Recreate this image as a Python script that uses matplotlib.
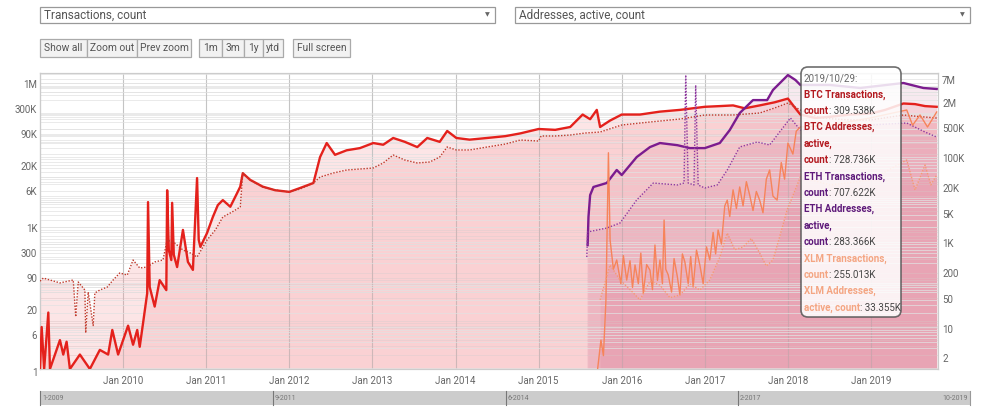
import matplotlib.pyplot as plt
import matplotlib.transforms as mtransforms
from matplotlib.patches import FancyBboxPatch, Rectangle
from matplotlib.text import Annotation
from matplotlib.ticker import LogLocator, NullFormatter

plt.rcParams['font.family'] = ['Roboto', 'DejaVu Sans']

# (decimal year, value)
# left axis: transactions, right axis: active addresses
btc_tx = [(2009.00, 1), (2009.02, 7.5), (2009.05, 1), (2009.10, 15), (2009.12, 1), (2009.18, 2),
          (2009.24, 4), (2009.28, 2), (2009.32, 3.7), (2009.36, 1), (2009.48, 2), (2009.60, 1),
          (2009.72, 2.5), (2009.82, 2), (2009.87, 6.5), (2009.94, 2), (2010.00, 4), (2010.06, 8),
          (2010.12, 3.2), (2010.17, 6.5), (2010.20, 2.9), (2010.24, 9), (2010.29, 38), (2010.30, 3000),
          (2010.32, 51), (2010.38, 20), (2010.44, 71), (2010.52, 44), (2010.53, 5300), (2010.55, 300),
          (2010.58, 186), (2010.59, 2900), (2010.61, 240), (2010.65, 133), (2010.72, 790), (2010.78, 170),
          (2010.84, 116), (2010.89, 9500), (2010.91, 490), (2010.93, 350), (2011.01, 680), (2011.08, 1470),
          (2011.14, 2600), (2011.20, 3300), (2011.29, 2400), (2011.36, 4200), (2011.41, 6300),
          (2011.44, 12000), (2011.53, 8700), (2011.68, 6300), (2011.83, 5300), (2012.00, 4900),
          (2012.13, 5900), (2012.29, 7500), (2012.37, 26000), (2012.45, 51000), (2012.55, 29000),
          (2012.69, 36000), (2012.85, 40000), (2013.01, 51000), (2013.13, 47000), (2013.25, 65000),
          (2013.39, 54000), (2013.54, 42000), (2013.66, 65000), (2013.81, 54000), (2013.90, 91000),
          (2014.01, 65000), (2014.17, 60000), (2014.38, 65000), (2014.60, 71000), (2014.78, 81000),
          (2015.00, 100000), (2015.20, 96000), (2015.38, 110000), (2015.53, 200000), (2015.62, 160000),
          (2015.70, 250000), (2015.74, 110000), (2015.86, 150000), (2016.00, 200000), (2016.22, 200000),
          (2016.46, 230000), (2016.70, 250000), (2017.00, 290000), (2017.18, 300000), (2017.34, 310000),
          (2017.48, 270000), (2017.66, 310000), (2017.84, 360000), (2018.00, 430000), (2018.09, 270000),
          (2018.15, 200000), (2018.33, 170000), (2018.51, 180000), (2018.75, 200000), (2019.00, 210000),
          (2019.17, 250000), (2019.39, 340000), (2019.53, 330000), (2019.65, 300000), (2019.79, 290000)]

btc_addr = [(2009.00, 110), (2009.04, 130), (2009.24, 100), (2009.40, 117), (2009.43, 16), (2009.46, 105),
            (2009.54, 68), (2009.55, 6.7), (2009.58, 61), (2009.64, 10), (2009.66, 58), (2009.72, 68),
            (2009.81, 80), (2009.88, 117), (2009.96, 171), (2010.05, 153), (2010.12, 345), (2010.20, 224),
            (2010.29, 236), (2010.38, 310), (2010.48, 345), (2010.53, 1016), (2010.62, 865), (2010.72, 592),
            (2010.81, 503), (2010.89, 405), (2011.01, 1016), (2011.11, 1745), (2011.20, 3520),
            (2011.31, 4600), (2011.41, 6050), (2011.44, 38000), (2011.53, 26000), (2011.68, 17800),
            (2011.83, 15200), (2012.00, 13600), (2012.13, 16000), (2012.29, 22100), (2012.37, 30600),
            (2012.53, 38000), (2012.69, 44700), (2012.85, 47200), (2013.01, 49800), (2013.13, 65300),
            (2013.25, 100500), (2013.39, 76700), (2013.54, 65300), (2013.69, 68900), (2013.81, 90200),
            (2013.90, 155000), (2014.01, 132000), (2014.17, 132000), (2014.38, 155000), (2014.60, 182000),
            (2014.78, 226000), (2015.00, 214000), (2015.03, 281000), (2015.20, 281000), (2015.38, 296000),
            (2015.56, 330000), (2015.74, 348000), (2016.00, 509000), (2016.34, 598000), (2016.70, 703000),
            (2017.00, 874000), (2017.34, 874000), (2017.66, 973000), (2017.84, 1276000), (2018.00, 1670000),
            (2018.15, 1145000), (2018.39, 743000), (2018.75, 667000), (2019.00, 667000), (2019.39, 874000),
            (2019.59, 800000), (2019.79, 743000)]

eth_tx = [(2015.59, 383), (2015.60, 1470), (2015.62, 4200), (2015.66, 6200), (2015.82, 7500),
          (2015.94, 14000), (2016.00, 11000), (2016.18, 26000), (2016.34, 42000), (2016.46, 51000),
          (2016.67, 46000), (2016.82, 40000), (2017.00, 40000), (2017.18, 51000), (2017.30, 95000),
          (2017.42, 215000), (2017.58, 400000), (2017.75, 400000), (2017.82, 650000), (2018.00, 1330000),
          (2018.09, 1050000), (2018.15, 826000), (2018.51, 826000), (2018.87, 715000), (2019.39, 909000),
          (2019.63, 715000), (2019.79, 682000)]

eth_addr = [(2015.58, 405), (2015.59, 1570), (2015.82, 1940), (2015.98, 2550), (2016.18, 8830),
            (2016.38, 22100), (2016.67, 19900), (2016.75, 22100), (2016.77, 7600000), (2016.80, 22100),
            (2016.87, 19900), (2016.89, 4400000), (2016.92, 19900), (2017.00, 16900), (2017.15, 19900),
            (2017.27, 44700), (2017.42, 155000), (2017.63, 203000), (2017.78, 173000), (2017.90, 348000),
            (2018.03, 743000), (2018.15, 388000), (2018.51, 433000), (2018.99, 509000), (2019.43, 567000),
            (2019.65, 348000), (2019.79, 266000)]

xlm_tx = [(2015.71, 1), (2015.75, 4), (2015.78, 1.9), (2015.81, 27), (2015.84, 32000), (2015.86, 490),
          (2015.90, 120), (2015.94, 187), (2015.99, 60), (2016.02, 230), (2016.06, 71), (2016.10, 180),
          (2016.13, 50), (2016.16, 147), (2016.20, 60), (2016.23, 260), (2016.26, 38), (2016.30, 150),
          (2016.34, 115), (2016.37, 45), (2016.40, 383), (2016.43, 70), (2016.46, 187), (2016.49, 60),
          (2016.51, 1270), (2016.53, 120), (2016.56, 91), (2016.60, 40), (2016.63, 200), (2016.67, 83),
          (2016.70, 35), (2016.73, 250), (2016.76, 170), (2016.80, 60), (2016.83, 220), (2016.86, 51),
          (2016.90, 300), (2016.94, 147), (2016.98, 60), (2017.02, 350), (2017.06, 187), (2017.10, 700),
          (2017.13, 250), (2017.16, 787), (2017.20, 400), (2017.24, 2500), (2017.27, 3300),
          (2017.30, 1500), (2017.34, 5400), (2017.38, 2200), (2017.42, 6200), (2017.46, 2500),
          (2017.50, 8000), (2017.54, 4200), (2017.58, 2000), (2017.62, 5000), (2017.66, 3300),
          (2017.70, 1800), (2017.74, 9000), (2017.78, 14000), (2017.82, 4000), (2017.87, 3300),
          (2017.92, 20000), (2017.96, 9000), (2018.00, 51000), (2018.06, 30000), (2018.10, 90000),
          (2018.15, 110000), (2018.51, 121000), (2018.99, 170000), (2019.43, 249000), (2019.50, 120000),
          (2019.59, 196000), (2019.68, 110000), (2019.79, 226000)]

xlm_addr = [(2015.74, 40), (2015.86, 263), (2015.98, 117), (2016.10, 70), (2016.22, 40), (2016.34, 110),
            (2016.46, 89), (2016.58, 45), (2016.70, 52), (2016.82, 95), (2016.94, 68), (2017.06, 117),
            (2017.18, 400), (2017.27, 1480), (2017.36, 600), (2017.46, 697), (2017.56, 1100),
            (2017.66, 503), (2017.74, 250), (2017.82, 345), (2017.90, 1200), (2017.99, 5140),
            (2018.15, 30600), (2018.51, 19900), (2018.99, 26000), (2019.43, 76700), (2019.53, 15200),
            (2019.65, 58600), (2019.72, 20000), (2019.79, 34100)]

years = list(range(2010, 2020))
left_ticks = [1, 6, 20, 90, 300, 1e3, 6e3, 2e4, 9e4, 3e5, 1e6]
left_labels = ['1', '6', '20', '90', '300', '1K', '6K', '20K', '90K', '300K', '1M']
right_ticks = [2, 10, 50, 200, 1e3, 5e3, 2e4, 1e5, 5e5, 2e6, 7e6]
right_labels = ['2', '10', '50', '200', '1K', '5K', '20K', '100K', '500K', '2M', '7M']

tooltip = [('2019/10/29:', None, '#666666'),
           ('BTC Transactions,', None, '#b3191f'),
           ('count', ': 309.538K', '#b3191f'),
           ('BTC Addresses,', None, '#b3191f'),
           ('active,', None, '#b3191f'),
           ('count', ': 728.736K', '#b3191f'),
           ('ETH Transactions,', None, '#5e1a7a'),
           ('count', ': 707.622K', '#5e1a7a'),
           ('ETH Addresses,', None, '#5e1a7a'),
           ('active,', None, '#5e1a7a'),
           ('count', ': 283.366K', '#5e1a7a'),
           ('XLM Transactions,', None, '#f4a582'),
           ('count', ': 255.013K', '#f4a582'),
           ('XLM Addresses,', None, '#f4a582'),
           ('active, count', ': 33.355K', '#f4a582')]

W, H = 1000, 412
fig = plt.figure(figsize=(W / 100, H / 100), dpi=100)


def fx(x):
    return x / W


def fy(y):
    return 1 - y / H


ax = fig.add_axes([fx(40), fy(369), fx(938) - fx(40), fy(73) - fy(369)])
ax2 = ax.twinx()
ax.set_xlim(2009.0, 2019.806)
for a, lo, hi in [(ax, 1, 1.468e6), (ax2, 0.953, 8.46e6)]:
    a.set_yscale('log')
    a.set_ylim(lo, hi)
    a.yaxis.set_minor_locator(LogLocator(base=10, subs=range(1, 10), numticks=20))
    a.yaxis.set_minor_formatter(NullFormatter())
    a.grid(True, which='minor', axis='y', color='#e2e2e2', lw=0.5)
    a.tick_params(axis='y', which='both', length=0, labelsize=7, labelcolor='#666666')
    for s in a.spines.values():
        s.set_color('#cccccc')
        s.set_linewidth(0.8)
ax.spines['left'].set_color('#999999')

ax.set_yticks(left_ticks)
ax.set_yticklabels(left_labels)
ax.tick_params(axis='y', pad=2)
ax2.set_yticks(right_ticks)
ax2.set_yticklabels(right_labels)
ax2.tick_params(axis='y', pad=3)
shift = mtransforms.ScaledTranslation(0, -3 / 100, fig.dpi_scale_trans)
for lbl in ax.get_yticklabels() + ax2.get_yticklabels():
    lbl.set_transform(lbl.get_transform() + shift)

ax.set_xticks(years)
ax.set_xticklabels(['Jan %d' % y for y in years])
ax.tick_params(axis='x', length=0, labelsize=7, labelcolor='#666666', pad=5)
for y in years:
    ax2.axvline(y, color='#c4c4c4', lw=0.8, zorder=0.5)

series = [
    (ax, btc_tx, '#e4211c', '-', 1.7, '#f58c91', 0.22),
    (ax2, btc_addr, '#c0392b', (0, (1, 1.2)), 1.0, '#f58c91', 0.22),
    (ax, eth_tx, '#7b1c8f', '-', 1.7, '#ce789d', 0.16),
    (ax2, eth_addr, '#8e3aa0', (0, (1, 1.2)), 1.0, '#ce789d', 0.16),
    (ax, xlm_tx, '#f6845a', '-', 1.0, '#db6d85', 0.13),
    (ax2, xlm_addr, '#f59a73', (0, (1, 1.2)), 1.0, '#db6d85', 0.13),
]

# fills first (each on its own scale), lines afterwards so no fill covers them
for a, pts, col, ls, lw, fcol, alpha in series:
    t = [p[0] for p in pts]
    v = [p[1] for p in pts]
    a.fill_between(t, v, 0.1, color=fcol, alpha=alpha, lw=0)
for a, pts, col, ls, lw, fcol, alpha in series:
    t = [p[0] for p in pts]
    v = [p[1] for p in pts]
    ax2.plot(t, v, color=col, ls=ls, lw=lw, transform=a.transData, zorder=3)

# tooltip
box = FancyBboxPatch((801, H - 317), 100, 250, boxstyle='round,pad=0,rounding_size=7',
                     facecolor='white', edgecolor='#555555', lw=1.2, alpha=0.85,
                     transform=None, zorder=5)
fig.patches.append(box)
for i, (name, val, col) in enumerate(tooltip):
    ty = 78 + i * 16.4
    bold = 'normal' if i == 0 else 'bold'
    t1 = fig.text(fx(804), fy(ty), name, color=col, fontsize=7.0, fontweight=bold,
                  va='center', ha='left', zorder=6)
    if val:
        fig.add_artist(Annotation(val, xy=(1, 0), xycoords=t1, va='bottom', ha='left',
                                  color='#444444', fontsize=7.0, zorder=6))

# controls above the chart
for x0, x1, label in [(40, 495, 'Transactions, count'), (515, 970, 'Addresses, active, count')]:
    fig.patches.append(Rectangle((fx(x0), fy(23)), fx(x1 - x0), 16 / H, transform=fig.transFigure,
                                 facecolor='white', edgecolor='#999999', lw=0.9))
    fig.text(fx(x0 + 4), fy(15), label, fontsize=8.5, color='#555555', va='center')
    fig.text(fx(x1 - 8), fy(15), '▼', fontsize=4.5, color='#666666', va='center', ha='center',
             family='DejaVu Sans')

buttons = [(40, 87, 'Show all'), (87, 137, 'Zoom out'), (137, 191, 'Prev zoom'),
           (199, 222, '1m'), (222, 244, '3m'), (244, 263, '1y'), (263, 283, 'ytd'),
           (293, 350, 'Full screen')]
for x0, x1, label in buttons:
    fig.patches.append(Rectangle((fx(x0), fy(57)), fx(x1 - x0), 18 / H, transform=fig.transFigure,
                                 facecolor='#f2f2f2', edgecolor='#aaaaaa', lw=0.9))
    fig.text(fx((x0 + x1) / 2), fy(48), label, fontsize=7.4, color='#555555',
             va='center', ha='center')

# navigator strip
fig.patches.append(Rectangle((fx(40), fy(405)), fx(930), 14 / H, transform=fig.transFigure,
                             facecolor='#cccccc', edgecolor='none'))
for xs, label in [(40, '1-2009'), (273, '9-2011'), (506, '6-2014'), (738, '2-2017')]:
    fig.add_artist(plt.Line2D([fx(xs), fx(xs)], [fy(405), fy(391)], color='#777777', lw=0.8,
                              transform=fig.transFigure))
    fig.text(fx(xs + 2), fy(398.5), label, fontsize=5, color='#777777', va='center')
fig.add_artist(plt.Line2D([fx(970), fx(970)], [fy(405), fy(391)], color='#999999', lw=0.8,
                          transform=fig.transFigure))
fig.text(fx(968), fy(398.5), '10-2019', fontsize=5, color='#777777', va='center', ha='right')

fig.savefig('out.png', dpi=100)
